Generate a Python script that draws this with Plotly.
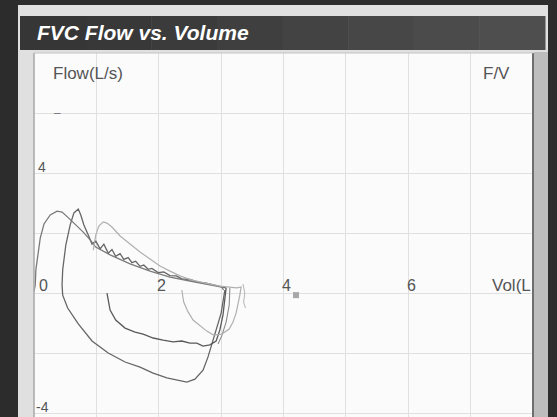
import plotly.graph_objects as go

# ---------------- data (volume in L, flow in L/s) ----------------
trial1_vol = [0.00, 0.02, 0.03, 0.06, 0.10, 0.16, 0.26, 0.37, 0.45, 0.54, 0.66, 0.79, 0.90, 0.99,
              1.22, 1.54, 1.86, 2.18, 2.50, 2.82, 3.01, 3.04]
trial1_flow = [0.05, 0.27, 0.77, 1.27, 1.83, 2.30, 2.60, 2.73, 2.70, 2.53, 2.30, 2.03, 1.77, 1.53,
               1.27, 0.97, 0.73, 0.53, 0.40, 0.27, 0.20, 0.10]

trial2_vol = [3.06, 3.03, 3.00, 2.92, 2.85, 2.79, 2.71, 2.58, 2.45, 2.34, 2.13, 1.91, 1.70, 1.46,
              1.19, 0.93, 0.71, 0.54, 0.46, 0.45, 0.46, 0.51, 0.58, 0.64, 0.71, 0.75, 0.80, 0.87,
              0.93, 0.99, 1.06, 1.12, 1.19, 1.25, 1.31, 1.38, 1.44, 1.51, 1.57, 1.63, 1.70, 1.76,
              1.83, 1.89, 1.99, 2.08, 2.18, 2.28, 2.37, 2.50, 2.63, 2.76, 2.88, 3.01, 3.08]
trial2_flow = [0.10, -0.23, -0.67, -1.23, -1.73, -2.13, -2.57, -2.87, -2.97, -2.93, -2.83, -2.67,
               -2.47, -2.30, -2.00, -1.60, -1.03, -0.50, -0.07, 0.27, 0.77, 1.60, 2.27, 2.67, 2.80,
               2.60, 2.27, 1.93, 1.63, 1.73, 1.47, 1.63, 1.33, 1.45, 1.22, 1.31, 1.12, 1.18, 1.01,
               1.06, 0.89, 0.93, 0.79, 0.82, 0.68, 0.70, 0.58, 0.57, 0.47, 0.45, 0.36, 0.33, 0.27,
               0.23, 0.17]

insp3_vol = [3.08, 3.06, 3.03, 2.98, 2.92, 2.82, 2.71, 2.61, 2.50, 2.37, 2.23, 2.07, 1.91, 1.75,
             1.62, 1.46, 1.31, 1.22, 1.19, 1.17]
insp3_flow = [0.17, -0.23, -0.73, -1.23, -1.60, -1.73, -1.77, -1.67, -1.67, -1.60, -1.63, -1.57,
              -1.50, -1.37, -1.30, -1.17, -0.90, -0.57, -0.23, 0.00]

insp4_vol = [3.14, 3.13, 3.08, 3.01, 2.95]
insp4_flow = [0.17, -0.40, -0.97, -1.43, -1.70]

trial5_vol = [0.95, 0.99, 1.04, 1.11, 1.17, 1.25, 1.38, 1.54, 1.70, 1.86, 2.02, 2.18, 2.34, 2.53,
              2.74, 2.98, 3.25, 3.32, 3.30, 3.27, 3.24, 3.19, 3.13, 3.01, 2.88, 2.77, 2.66, 2.55,
              2.47, 2.40, 2.37]
trial5_flow = [1.43, 1.93, 2.23, 2.37, 2.33, 2.20, 1.90, 1.63, 1.37, 1.13, 0.90, 0.73, 0.57, 0.43,
               0.33, 0.23, 0.17, 0.20, -0.07, -0.33, -0.67, -0.97, -1.20, -1.37, -1.40, -1.27,
               -1.10, -0.90, -0.63, -0.30, 0.10]

tail_vol = [3.35, 3.38, 3.36, 3.39]
tail_flow = [0.30, 0.00, -0.30, -0.50]

mark_vol = [4.2]
mark_flow = [-0.07]

x_tick_vals = [0, 2, 4, 6]
x_tick_text = ["0", "2", "4", "6"]
y_tick_vals = [4, -4]
y_tick_text = ["4", "-4"]

title_text = "FVC Flow vs. Volume"

# ---------------- figure ----------------
fig = go.Figure()

traces = [
    (trial2_vol, trial2_flow, "#666666", 1.3),
    (insp3_vol, insp3_flow, "#5a5a5a", 1.3),
    (insp4_vol, insp4_flow, "#8a8a8a", 1.1),
    (trial1_vol, trial1_flow, "#7a7a7a", 1.3),
    (trial5_vol, trial5_flow, "#b0b0b0", 1.2),
    (tail_vol, tail_flow, "#b5b5b5", 1.0),
]
for xs, ys, col, w in traces:
    fig.add_trace(go.Scatter(x=xs, y=ys, mode="lines",
                             line=dict(color=col, width=w), showlegend=False,
                             hoverinfo="skip"))

fig.add_trace(go.Scatter(x=mark_vol, y=mark_flow, mode="markers",
                         marker=dict(symbol="square", size=6, color="#a8a8a8"),
                         showlegend=False, hoverinfo="skip"))

L, R, T, B = 34, 24, 53, 0
W, H = 557, 417
pw, ph = W - L - R, H - T - B


def px(xp):
    return (xp - L) / pw


def py(yp):
    return (H - B - yp) / ph


shapes = [
    # page
    dict(type="rect", xref="paper", yref="paper", x0=px(18), x1=px(548), y0=py(420), y1=py(5),
         fillcolor="#e0e0e0", line=dict(width=0), layer="below"),
    # right strip
    dict(type="rect", xref="paper", yref="paper", x0=px(534), x1=px(548), y0=py(420), y1=py(52),
         fillcolor="#bdbdbd", line=dict(width=0), layer="below"),
]
# title bar with a gentle left-to-right lightening
bar_steps = ["#363636", "#383838", "#3b3b3b", "#3f3f3f", "#434343", "#474747", "#4b4b4b",
             "#4e4e4e"]
x_start, x_end = 20, 545
step_w = (x_end - x_start) / len(bar_steps)
for i, c in enumerate(bar_steps):
    shapes.append(dict(type="rect", xref="paper", yref="paper",
                       x0=px(x_start + i * step_w), x1=px(x_start + (i + 1) * step_w + 0.5),
                       y0=py(50), y1=py(16), fillcolor=c, line=dict(width=0), layer="below"))
shapes += [
    # plot area
    dict(type="rect", xref="paper", yref="paper", x0=0, x1=1, y0=0, y1=1,
         fillcolor="#fbfbfb", line=dict(width=0), layer="below"),
    # borders
    dict(type="line", xref="paper", yref="paper", x0=0, x1=0, y0=0, y1=1,
         line=dict(color="#a8a8a8", width=1.5)),
    dict(type="line", xref="paper", yref="paper", x0=1, x1=1, y0=0, y1=1,
         line=dict(color="#6e6e6e", width=2)),
    dict(type="line", xref="paper", yref="paper", x0=0, x1=1, y0=1, y1=1,
         line=dict(color="#c4c4c4", width=1)),
]

FONT = "Liberation Sans"
TXT = "#555555"
annotations = [
    dict(text="<b><i>" + title_text + "</i></b>", xref="paper", yref="paper",
         x=px(35), y=py(33), xanchor="left", yanchor="middle", showarrow=False,
         font=dict(family=FONT, size=21, color="#ffffff")),
    dict(text="Flow(L/s)", xref="x", yref="y", x=0.27, y=7.33, xanchor="left", yanchor="middle",
         showarrow=False, font=dict(family=FONT, size=17, color=TXT)),
    dict(text="F/V", xref="x", yref="y", x=7.67, y=7.33, xanchor="right", yanchor="middle",
         showarrow=False, font=dict(family=FONT, size=17, color=TXT)),
    dict(text="Vol(L", xref="x", yref="y", x=7.31, y=0.0, yshift=8, xanchor="left",
         yanchor="middle", showarrow=False, font=dict(family=FONT, size=17, color=TXT)),
    dict(text="–", xref="x", yref="y", x=0.37, y=6, xanchor="center", yanchor="middle",
         showarrow=False, font=dict(family=FONT, size=12, color="#777777")),
]
for v, t in zip(x_tick_vals, x_tick_text):
    annotations.append(dict(text=t, xref="x", yref="y", x=v, y=0, xshift=9 if v == 0 else 3,
                            yshift=8, xanchor="center", yanchor="middle", showarrow=False,
                            font=dict(family=FONT, size=16, color=TXT)))
for v, t in zip(y_tick_vals, y_tick_text):
    annotations.append(dict(text=t, xref="x", yref="y", x=0, y=v, xshift=8,
                            yshift=6, xanchor="center", yanchor="middle", showarrow=False,
                            font=dict(family=FONT, size=14, color=TXT)))

fig.update_layout(
    width=W, height=H,
    margin=dict(l=L, r=R, t=T, b=B, pad=0),
    paper_bgcolor="#2c2c2c",
    plot_bgcolor="rgba(0,0,0,0)",
    shapes=shapes,
    annotations=annotations,
    showlegend=False,
    xaxis=dict(range=[0, 8], dtick=1, showgrid=True, gridcolor="#e0e0e0", gridwidth=1,
               zeroline=False, showticklabels=False, ticks="", showline=False, fixedrange=True),
    yaxis=dict(range=[-4.133, 8], dtick=2, tick0=0, showgrid=True, gridcolor="#e0e0e0",
               gridwidth=1, zeroline=False, showticklabels=False, ticks="", showline=False,
               fixedrange=True),
)

fig.write_html("out.html", config=dict(displayModeBar=False),
               post_script="document.body.style.margin='0';document.body.style.padding='0';"
                           "document.body.style.overflow='hidden';")
